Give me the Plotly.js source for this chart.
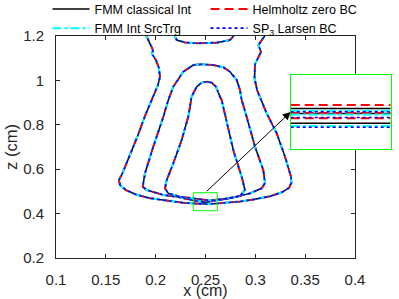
<!DOCTYPE html>
<html>
<head>
<meta charset="utf-8">
<script src="https://cdn.plot.ly/plotly-3.0.1.min.js"></script>
<style>
  html, body { margin: 0; padding: 0; background: #fff; }
  #chart { width: 399px; height: 299px; }
</style>
</head>
<body>
<div id="chart"></div>
<script>
// isoline pieces (cm)
var outerX = [0.1893, 0.1943, 0.1973, 0.1963, 0.2003, 0.2033, 0.2043, 0.2023, 0.1993, 0.1953, 0.1893, 0.1823, 0.1742, 0.1672, 0.1632, 0.1642, 0.1702, 0.1803, 0.1943, 0.2114, 0.2274, 0.2445, 0.2545, 0.2645, 0.2846, 0.2997, 0.3147, 0.3268, 0.3338, 0.3363, 0.3358, 0.3298, 0.3214, 0.3114, 0.3017, 0.2992, 0.2997, 0.3057, 0.3031, 0.3114];
var outerY = [1.2135, 1.164, 1.137, 1.119, 1.092, 1.056, 1.015, 0.979, 0.948, 0.907, 0.840, 0.754, 0.664, 0.587, 0.551, 0.529, 0.506, 0.486, 0.469, 0.457, 0.449, 0.444, 0.443, 0.447, 0.454, 0.465, 0.478, 0.496, 0.516, 0.540, 0.566, 0.656, 0.762, 0.852, 0.957, 1.011, 1.074, 1.128, 1.159, 1.2135];

var middleX = [0.2462, 0.2378, 0.2277, 0.2177, 0.2127, 0.2077, 0.1976, 0.1893, 0.1870, 0.1910, 0.2077, 0.2211, 0.2395, 0.2495, 0.2746, 0.2946, 0.3064, 0.3097, 0.3080, 0.2997, 0.2913, 0.2863, 0.2846, 0.2813, 0.2746, 0.2679, 0.2578, 0.2462];
var middleY = [1.073, 1.069, 1.039, 0.972, 0.912, 0.836, 0.701, 0.582, 0.521, 0.506, 0.484, 0.476, 0.458, 0.451, 0.469, 0.491, 0.514, 0.538, 0.596, 0.701, 0.836, 0.912, 0.957, 1.002, 1.039, 1.059, 1.069, 1.073];

var innerX = [0.2512, 0.2462, 0.2412, 0.2361, 0.2327, 0.2261, 0.2177, 0.2111, 0.2094, 0.2127, 0.2244, 0.2395, 0.2545, 0.2713, 0.2846, 0.2896, 0.2863, 0.2779, 0.2713, 0.2662, 0.2645, 0.2605, 0.2562, 0.2512];
var innerY = [0.994, 0.990, 0.972, 0.927, 0.836, 0.732, 0.627, 0.551, 0.514, 0.491, 0.476, 0.466, 0.459, 0.468, 0.479, 0.506, 0.566, 0.686, 0.807, 0.912, 0.927, 0.972, 0.990, 0.994];

var capX = [0.2177, 0.2211, 0.2294, 0.2412, 0.2612, 0.2746, 0.2806];
var capY = [1.2135, 1.182, 1.171, 1.167, 1.170, 1.182, 1.2135];

// zoomed window and the levels seen inside the inset
var zoomBoxX = [0.2377, 0.2618];
var zoomBoxY = [0.4131, 0.4942];
var insetBlack = [0.4573, 0.4518, 0.4412];
var insetRed = [0.4611, 0.4524, 0.4466];
var insetCyan = [0.4549, 0.4508, 0.4382];
var insetBlue = [0.4538, 0.4475, 0.4368];

var seriesNames = ['FMM classical Int', 'Helmholtz zero BC', 'FMM Int SrcTrg', 'SP<sub>3</sub> Larsen BC'];
var insetLevels = [insetBlack, insetRed, insetCyan, insetBlue];

var styles = [
  {color: '#000000', width: 1.5, dash: 'solid'},
  {color: '#ff0000', width: 2, dash: '9px,5px'},
  {color: '#00ffff', width: 2, dash: 'dashdot'},
  {color: '#0000ff', width: 1.6, dash: 'dot'}
];

function joinPieces(pieces) {
  var out = [];
  pieces.forEach(function(p, i) {
    if (i > 0) out.push(null);
    out = out.concat(p);
  });
  return out;
}

var mainX = joinPieces([outerX, middleX, innerX, capX]);
var mainY = joinPieces([outerY, middleY, innerY, capY]);

var traces = [];
seriesNames.forEach(function(name, i) {
  traces.push({
    x: mainX, y: mainY, mode: 'lines', name: name,
    line: styles[i], hoverinfo: 'skip', xaxis: 'x', yaxis: 'y'
  });
});
seriesNames.forEach(function(name, i) {
  var xs = [], ys = [];
  insetLevels[i].forEach(function(v) {
    xs.push(zoomBoxX[0], zoomBoxX[1], null);
    ys.push(v, v, null);
  });
  traces.push({
    x: xs, y: ys, mode: 'lines', showlegend: false,
    line: styles[i], hoverinfo: 'skip', xaxis: 'x2', yaxis: 'y2'
  });
});

var axisColor = '#262626';
var font = 'Liberation Sans, Arial, Helvetica, sans-serif';

var layout = {
  width: 399, height: 299,
  margin: {l: 56, r: 5, t: 36, b: 41, autoexpand: false},
  paper_bgcolor: 'white', plot_bgcolor: 'white',
  font: {family: font, color: axisColor},
  showlegend: true,
  legend: {
    orientation: 'h', x: -0.025, xanchor: 'left', y: 1.188, yanchor: 'top',
    entrywidth: 106, itemwidth: 37, font: {size: 12.5, color: '#000'},
    bgcolor: 'rgba(0,0,0,0)', tracegroupgap: 0
  },
  xaxis: {
    domain: [0, 0.8846], range: [0.1, 0.4], tick0: 0.1, dtick: 0.05,
    ticks: 'inside', ticklen: 4, tickcolor: axisColor, mirror: 'ticks',
    showline: true, linecolor: axisColor, linewidth: 1,
    showgrid: false, zeroline: false, tickfont: {size: 15},
    ticklabelstandoff: 8,
    title: {text: 'x (cm)', font: {size: 16}, standoff: 0}
  },
  yaxis: {
    domain: [0, 1], range: [0.2, 1.2], tick0: 0.2, dtick: 0.2,
    ticks: 'inside', ticklen: 4, tickcolor: axisColor, mirror: 'ticks',
    showline: true, linecolor: axisColor, linewidth: 1,
    showgrid: false, zeroline: false, tickfont: {size: 15},
    ticklabelstandoff: 8,
    title: {text: 'z (cm)', font: {size: 16.5}, standoff: 1}
  },
  xaxis2: {
    domain: [0.6944, 0.9902], anchor: 'y2', range: zoomBoxX,
    showline: true, mirror: true, linecolor: '#00ff00', linewidth: 1,
    showticklabels: false, ticks: '', showgrid: false, zeroline: false
  },
  yaxis2: {
    domain: [0.491, 0.826], anchor: 'x2', range: zoomBoxY,
    showline: true, mirror: true, linecolor: '#00ff00', linewidth: 1,
    showticklabels: false, ticks: '', showgrid: false, zeroline: false
  },
  shapes: [{
    type: 'rect', xref: 'x', yref: 'y',
    x0: zoomBoxX[0], x1: zoomBoxX[1], y0: zoomBoxY[0], y1: zoomBoxY[1],
    line: {color: '#00ff00', width: 1}
  }],
  annotations: [{
    xref: 'x', yref: 'y', axref: 'x', ayref: 'y',
    x: 0.3355, y: 0.858,
    ax: (zoomBoxX[0] + zoomBoxX[1]) / 2, ay: zoomBoxY[1],
    text: '', showarrow: true, arrowhead: 2, arrowsize: 1.6,
    arrowwidth: 1, arrowcolor: '#000', standoff: 0
  }]
};

Plotly.newPlot('chart', traces, layout, {displayModeBar: false, staticPlot: true});
</script>
</body>
</html>
